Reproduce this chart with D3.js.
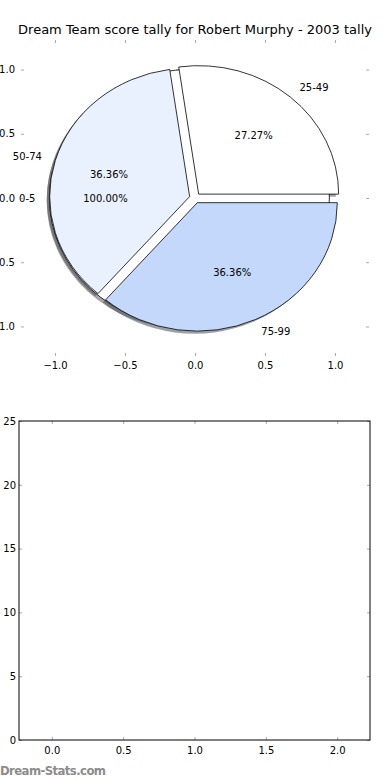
<!DOCTYPE html>
<html>
<head>
<meta charset="utf-8">
<script src="https://cdn.jsdelivr.net/npm/d3@7"></script>
<style>
  body { margin: 0; background: #fff; }
  text { font-family: "DejaVu Sans", sans-serif; }
</style>
</head>
<body>
<svg id="chart" width="390" height="780"></svg>
<script>
const title = "Dream Team score tally for Robert Murphy - 2003 tally";

// first pie: one full wedge
const baseLabels = ["0-5"];
const baseValues = [1];
const baseColors = ["#ffffff"];

// second pie drawn over it
const pieLabels = ["25-49", "50-74", "75-99"];
const pieValues = [3, 4, 4];
const pieColors = ["#ffffff", "#eaf1fe", "#c4d8fc"];

const pieTicks = [-1.0, -0.5, 0.0, 0.5, 1.0];
const barXTicks = [0.0, 0.5, 1.0, 1.5, 2.0];
const barYTicks = [0, 5, 10, 15, 20, 25];
const barValues = [];

const explode = 0.04;
const svg = d3.select("#chart");

svg.append("text")
  .attr("x", 195).attr("y", 34)
  .attr("text-anchor", "middle")
  .style("font-size", "13px")
  .text(title);

// ---- pie axes ----
const x = d3.scaleLinear().domain([-1.243, 1.243]).range([21, 369]);
const y = d3.scaleLinear().domain([-1.23, 1.23]).range([356, 40]);
const rx = x(1) - x(0), ry = y(0) - y(1);

function wedgePath(cx, cy, t1, t2) {
  if (t2 - t1 >= 2 * Math.PI - 1e-9) return null;
  const large = (t2 - t1) > Math.PI ? 1 : 0;
  return `M${x(cx)},${y(cy)}L${x(cx + Math.cos(t1))},${y(cy + Math.sin(t1))}` +
    `A${rx},${ry} 0 ${large} 0 ${x(cx + Math.cos(t2))},${y(cy + Math.sin(t2))}Z`;
}

function layout(labels, values, colors) {
  const arcs = d3.pie().sort(null).startAngle(0).endAngle(2 * Math.PI)(values);
  const total = d3.sum(values);
  return arcs.map((a, i) => {
    const mid = (a.startAngle + a.endAngle) / 2;
    return {
      label: labels[i], color: colors[i], t1: a.startAngle, t2: a.endAngle, mid,
      pct: (100 * values[i] / total).toFixed(2) + "%",
      cx: explode * Math.cos(mid), cy: explode * Math.sin(mid)
    };
  });
}

const wedges = layout(baseLabels, baseValues, baseColors)
  .concat(layout(pieLabels, pieValues, pieColors));

const shadowG = svg.append("g");
const wedgeG = svg.append("g");
const textG = svg.append("g");

function drawWedge(g, d, dx, dy) {
  const p = wedgePath(d.cx + dx, d.cy + dy, d.t1, d.t2);
  if (p === null) {
    return g.append("ellipse")
      .attr("cx", x(d.cx + dx)).attr("cy", y(d.cy + dy))
      .attr("rx", rx).attr("ry", ry);
  }
  return g.append("path").attr("d", p);
}

wedges.forEach(d => {
  const c = d3.rgb(d.color);
  drawWedge(shadowG, d, -0.02, -0.02)
    .attr("fill", d3.rgb(c.r * 0.3, c.g * 0.3, c.b * 0.3))
    .attr("fill-opacity", 0.5);
});

wedges.forEach(d => {
  drawWedge(wedgeG, d, 0, 0)
    .attr("fill", d.color)
    .attr("stroke", "#000")
    .attr("stroke-width", 0.8);
});

wedges.forEach(d => {
  const lx = d.cx + 1.1 * Math.cos(d.mid), ly = d.cy + 1.1 * Math.sin(d.mid);
  textG.append("text")
    .attr("x", x(lx)).attr("y", y(ly)).attr("dy", "0.35em")
    .attr("text-anchor", lx > 0 ? "start" : "end")
    .style("font-size", "10px")
    .text(d.label);
  textG.append("text")
    .attr("x", x(d.cx + 0.6 * Math.cos(d.mid))).attr("y", y(d.cy + 0.6 * Math.sin(d.mid)))
    .attr("dy", "0.35em")
    .attr("text-anchor", "middle")
    .style("font-size", "10px")
    .text(d.pct);
});

function styleAxis(g) {
  g.select(".domain").remove();
  g.selectAll(".tick line").attr("stroke", "#aaa");
  g.selectAll(".tick text").style("font-size", "10px").attr("fill", "#000")
    .style("font-family", "'DejaVu Sans', sans-serif");
}

svg.append("g").attr("transform", "translate(0,356)")
  .call(d3.axisBottom(x).tickValues(pieTicks).tickSize(-3).tickPadding(6).tickFormat(d3.format(".1f")))
  .call(styleAxis);
svg.append("g").attr("transform", "translate(0,40)")
  .call(d3.axisTop(x).tickValues(pieTicks).tickSize(-3).tickFormat(""))
  .call(styleAxis);
svg.append("g").attr("transform", "translate(21,0)")
  .call(d3.axisLeft(y).tickValues(pieTicks).tickSize(-3).tickPadding(6).tickFormat(d3.format(".1f")))
  .call(styleAxis);
svg.append("g").attr("transform", "translate(369,0)")
  .call(d3.axisRight(y).tickValues(pieTicks).tickSize(-3).tickFormat(""))
  .call(styleAxis);

// ---- empty bar axes ----
const bx = d3.scaleLinear().domain([-0.23, 2.23]).range([19, 370]);
const by = d3.scaleLinear().domain([0, 25]).range([740, 421]);

svg.append("g").selectAll("rect.bar").data(barValues).join("rect")
  .attr("class", "bar")
  .attr("x", (d, i) => bx(i) - 10).attr("width", 20)
  .attr("y", d => by(d)).attr("height", d => by(0) - by(d));

svg.append("g").attr("transform", "translate(0,740)")
  .call(d3.axisBottom(bx).tickValues(barXTicks).tickSize(-3).tickPadding(7).tickFormat(d3.format(".1f")))
  .call(styleAxis);
svg.append("g").attr("transform", "translate(0,421)")
  .call(d3.axisTop(bx).tickValues(barXTicks).tickSize(-3).tickFormat(""))
  .call(styleAxis);
svg.append("g").attr("transform", "translate(19,0)")
  .call(d3.axisLeft(by).tickValues(barYTicks).tickSize(-3).tickPadding(3))
  .call(styleAxis);
svg.append("g").attr("transform", "translate(370,0)")
  .call(d3.axisRight(by).tickValues(barYTicks).tickSize(-3).tickFormat(""))
  .call(styleAxis);

svg.append("rect")
  .attr("x", 19).attr("y", 421)
  .attr("width", 370 - 19).attr("height", 740 - 421)
  .attr("fill", "none").attr("stroke", "#000").attr("stroke-width", 1);

svg.append("text")
  .attr("x", 0).attr("y", 775)
  .style("font-family", "'DejaVu Sans Condensed', 'DejaVu Sans', sans-serif")
  .style("font-size", "13px")
  .style("font-weight", "600")
  .style("letter-spacing", "-0.6px")
  .attr("fill", "#8c8c8c")
  .text("Dream-Stats.com");
</script>
</body>
</html>
